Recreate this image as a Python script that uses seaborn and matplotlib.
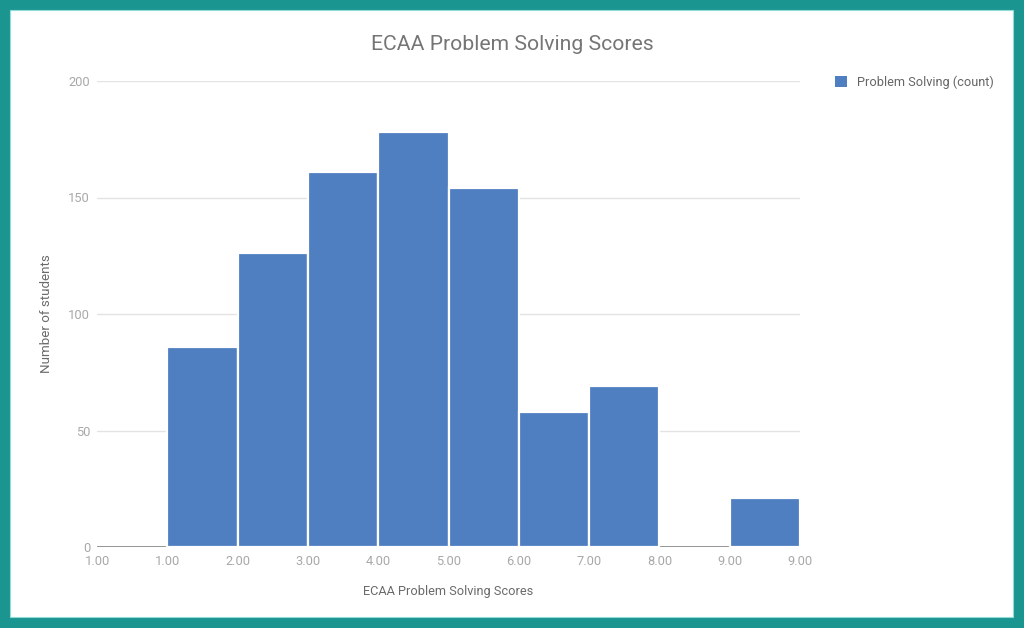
import numpy as np
import pandas as pd
import matplotlib
matplotlib.use("Agg")
import matplotlib.pyplot as plt
import seaborn as sns
from matplotlib.patches import Rectangle, Patch

# ---- data ----
tick_labels = ["1.00", "1.00", "2.00", "3.00", "4.00", "5.00", "6.00", "7.00", "8.00", "9.00", "9.00"]
counts = [0, 86, 126, 161, 178, 154, 58, 69, 0, 21]
title = "ECAA Problem Solving Scores"
x_label = "ECAA Problem Solving Scores"
y_label = "Number of students"
series_name = "Problem Solving (count)"

sns.set_theme(style="white")
plt.rcParams["font.family"] = ["Roboto", "DejaVu Sans"]

BAR = "#4f7ec1"
W, H = 1024, 628
fig = plt.figure(figsize=(W / 100, H / 100), dpi=100)
fig.patch.set_facecolor("#1b9590")
# white inner panel
fig.add_artist(Rectangle((10 / W, 1 - 617 / H), (1013 - 10) / W, (617 - 10) / H,
                         transform=fig.transFigure, facecolor="white",
                         edgecolor="#8fdcd8", linewidth=0.8, zorder=0))

ax = fig.add_axes([97 / W, 1 - 547 / H, (800 - 97) / W, (547 - 81) / H])
ax.set_facecolor("none")

n = len(counts)
df = pd.DataFrame({"bin": np.arange(n) + 0.5, "count": counts})
sns.histplot(data=df, x="bin", weights="count", bins=n, binrange=(0, n),
             color=BAR, alpha=1, edgecolor="white", linewidth=1.6, ax=ax, zorder=3)
for p in ax.patches:
    if p.get_height() == 0:
        p.set_visible(False)

ax.set_xlim(0, n)
ax.set_ylim(0, 200)
ax.set_yticks([0, 50, 100, 150, 200])
ax.set_xticks(np.arange(n + 1))
ax.set_xticklabels(tick_labels)
ax.yaxis.grid(True, color="#e3e3e3", linewidth=1)
ax.set_axisbelow(True)
ax.axhline(0, color="#8c8c8c", linewidth=2.0, zorder=2)
for s in ax.spines.values():
    s.set_visible(False)
ax.tick_params(axis="both", length=0, labelsize=9.3, colors="#a8a8a8")
ax.tick_params(axis="y", pad=5)
ax.tick_params(axis="x", pad=6)

ax.set_xlabel(x_label, fontsize=9.2, color="#6a6a6a", labelpad=12)
ax.set_ylabel(y_label, fontsize=9.6, color="#6a6a6a", labelpad=11)

fig.text(512 / W, 1 - 44 / H, title, ha="center", va="center", fontsize=15.2, color="#757575")

handles = [Patch(facecolor=BAR, edgecolor="none", label=series_name)]
leg = fig.legend(handles=handles, loc="center left", bbox_to_anchor=(830 / W, 1 - 82 / H),
                 frameon=False, fontsize=9.2, handlelength=0.9, handleheight=0.9,
                 handletextpad=0.8, borderaxespad=0)
for t in leg.get_texts():
    t.set_color("#666666")

fig.savefig("out.png", dpi=100, facecolor=fig.get_facecolor())
